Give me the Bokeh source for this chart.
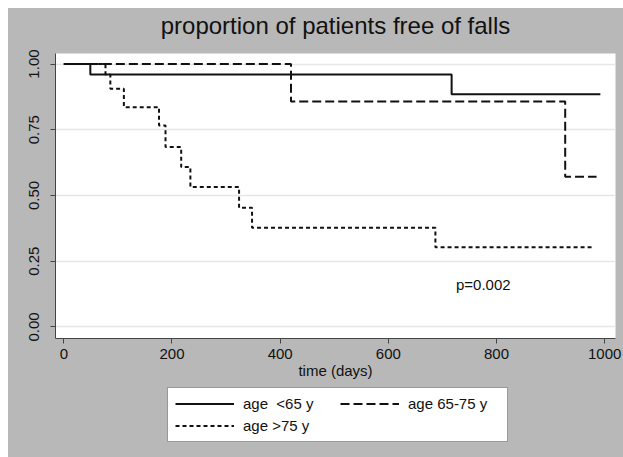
from bokeh.plotting import figure
from bokeh.layouts import column
from bokeh.models import (Legend, LegendItem, Label, FixedTicker, NumeralTickFormatter, Range1d)
from bokeh.embed import file_html
from bokeh.resources import INLINE

# ---- data ----
title_text = "proportion of patients free of falls"
x_label = "time (days)"
x_ticks = [0, 200, 400, 600, 800, 1000]
y_ticks = [0.0, 0.25, 0.5, 0.75, 1.0]

g1_name = "age  <65 y"
g1_time = [0, 49, 717, 992]
g1_surv = [1.0, 0.96, 0.885, 0.885]

g2_name = "age 65-75 y"
g2_time = [0, 420, 927, 985]
g2_surv = [1.0, 0.857, 0.571, 0.571]

g3_name = "age >75 y"
g3_time = [0, 77, 86, 111, 176, 188, 217, 234, 324, 348, 687, 980]
g3_surv = [1.0, 0.96, 0.906, 0.836, 0.766, 0.684, 0.608, 0.532, 0.453, 0.377, 0.303, 0.303]

p_text = "p=0.002"
p_x, p_y = 725, 0.16

FONT = "Liberation Sans"
BG = "#b8b8b8"
INK = "#111111"
DASH2 = "9 4"
DASH3 = "4 3"

# ---- title strip ----
p0 = figure(width=615, height=35, output_backend="svg", toolbar_location=None,
            min_border_left=47, min_border_right=8, min_border_top=0, min_border_bottom=0,
            x_axis_type=None, y_axis_type=None,
            x_range=Range1d(0, 1), y_range=Range1d(0, 1))
p0.background_fill_color = None
p0.border_fill_color = None
p0.outline_line_color = None
p0.grid.visible = False
p0.title.text = ""
p0.add_layout(Label(x=280, y=18, x_units="screen", y_units="screen", text=title_text,
                    text_font=FONT, text_font_size="24px", text_color=INK,
                    text_align="center", text_baseline="middle"))

# ---- main chart ----
p = figure(width=615, height=340, output_backend="svg", toolbar_location=None,
           x_range=Range1d(-15.4, 1020), y_range=Range1d(-0.044, 1.04),
           min_border_left=47, min_border_right=8, min_border_top=10, min_border_bottom=45)

p.background_fill_color = "white"
p.border_fill_color = None
p.outline_line_color = None
p.title.text = ""

r1 = p.step(g1_time, g1_surv, mode="after", line_color=INK, line_width=2)
r2 = p.step(g2_time, g2_surv, mode="after", line_color=INK, line_width=2, line_dash=DASH2)
r3 = p.step(g3_time, g3_surv, mode="after", line_color=INK, line_width=2, line_dash=DASH3)

p.xaxis.ticker = FixedTicker(ticks=x_ticks)
p.yaxis.ticker = FixedTicker(ticks=y_ticks)
p.yaxis.formatter = NumeralTickFormatter(format="0.00")
for ax in (p.xaxis[0], p.yaxis[0]):
    ax.axis_line_color = "#444444"
    ax.axis_line_width = 1
    ax.major_tick_line_color = "#444444"
    ax.major_tick_out = 5
    ax.major_tick_in = 0
    ax.minor_tick_line_color = None
    ax.major_label_text_font = FONT
    ax.major_label_text_font_size = "15px"
    ax.major_label_text_color = INK
p.yaxis.major_label_orientation = "vertical"
p.yaxis.major_label_standoff = 11
p.xaxis.major_label_standoff = 5
p.xaxis.axis_label = x_label
p.xaxis.axis_label_text_font = FONT
p.xaxis.axis_label_text_font_size = "15px"
p.xaxis.axis_label_text_font_style = "normal"
p.xaxis.axis_label_text_color = INK
p.xaxis.axis_label_standoff = 0

p.xgrid.grid_line_color = None
p.ygrid.grid_line_color = "#e6e6e6"
p.ygrid.grid_line_width = 1.5

p.add_layout(Label(x=p_x, y=p_y, text=p_text, text_font=FONT, text_font_size="15px",
                   text_color=INK, text_baseline="middle"))

# ---- legend strip (same series, drawn outside its view; only the legend shows) ----
p2 = figure(width=615, height=74, output_backend="svg", toolbar_location=None,
            min_border_left=47, min_border_right=8, min_border_top=0, min_border_bottom=0,
            x_axis_type=None, y_axis_type=None,
            x_range=Range1d(-3000, -2000), y_range=Range1d(-3000, -2000))
p2.background_fill_color = None
p2.border_fill_color = None
p2.outline_line_color = None
p2.grid.visible = False
l1 = p2.step(g1_time, g1_surv, mode="after", line_color=INK, line_width=2)
l2 = p2.step(g2_time, g2_surv, mode="after", line_color=INK, line_width=2, line_dash=DASH2)
l3 = p2.step(g3_time, g3_surv, mode="after", line_color=INK, line_width=2, line_dash=DASH3)

legend = Legend(items=[LegendItem(label=g1_name, renderers=[l1]),
                       LegendItem(label=g2_name, renderers=[l2]),
                       LegendItem(label=g3_name, renderers=[l3])],
                orientation="horizontal", ncols=2, location=(112, 15))
legend.label_text_font = FONT
legend.label_text_font_size = "15px"
legend.label_text_color = INK
legend.glyph_width = 59
legend.glyph_height = 17
legend.label_height = 17
legend.label_width = 92
legend.label_standoff = 9
legend.spacing = 5
legend.padding = 7
legend.margin = 0
legend.border_line_color = "#333333"
legend.border_line_width = 1
legend.background_fill_color = "white"
legend.background_fill_alpha = 1
p2.add_layout(legend)

layout = column(p0, p, p2, spacing=0, margin=(8, 0, 0, 8), styles={"background-color": BG})

open("out.html", "w").write(file_html(layout, INLINE))
